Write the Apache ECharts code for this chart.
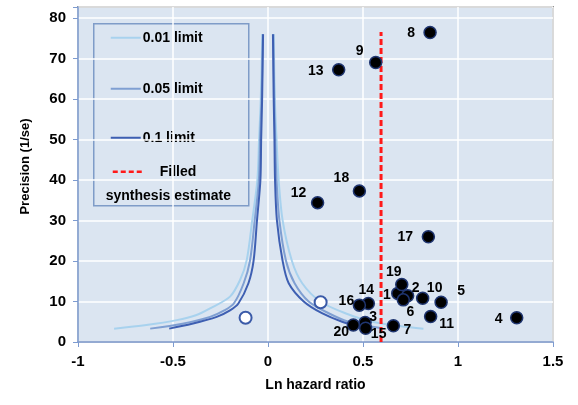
<!DOCTYPE html>
<html>
<head>
<meta charset="utf-8">
<title>Funnel plot</title>
<script src="https://cdn.jsdelivr.net/npm/echarts@6/dist/echarts.min.js"></script>
<style>
  html, body { margin: 0; padding: 0; background: #fff; }
  #funnelChart { width: 578px; height: 405px; }
</style>
</head>
<body>
<div id="funnelChart"></div>
<script>
// study id, ln hazard ratio, precision (1/se)
const studyIds = ['1', '2', '3', '4', '5', '6', '7', '8', '9', '10',
  '11', '12', '13', '14', '15', '16', '17', '18', '19', '20'];
const lnHR = [0.683, 0.735, 0.511, 1.309, 0.911, 0.712, 0.660, 0.853, 0.567, 0.814,
  0.856, 0.261, 0.372, 0.528, 0.514, 0.481, 0.844, 0.481, 0.704, 0.449];
const precision = [12.0, 11.4, 4.8, 6.0, 9.8, 10.4, 4.0, 76.4, 69.0, 10.8,
  6.3, 34.4, 67.2, 9.5, 3.4, 9.1, 26.0, 37.3, 14.2, 4.2];

// imputed (trim and fill) studies
const filledX = [0.277, -0.118];
const filledY = [9.8, 6.0];

// filled synthesis estimate
const filledEstimate = 0.595;
const estimateTop = 76.5;

// pseudo confidence limits [ln HR, precision]
const limit01Left = [[-0.81, 3.3], [-0.64, 4.2], [-0.48, 5.4], [-0.38, 6.6], [-0.305, 8.3], [-0.2, 11.2],
  [-0.147, 15.3], [-0.112, 20.2], [-0.083, 30], [-0.056, 40], [-0.047, 50], [-0.038, 60], [-0.03, 76]];
const limit01Right = [[0.818, 3.3], [0.7, 3.9], [0.547, 5], [0.407, 7.1], [0.275, 10], [0.18, 14.5],
  [0.126, 20], [0.077, 30], [0.056, 40], [0.045, 50], [0.036, 60], [0.03, 76]];
const limit05Left = [[-0.62, 3.3], [-0.45, 4.5], [-0.305, 6.2], [-0.23, 7.8], [-0.18, 9.5], [-0.128, 14.5],
  [-0.095, 20], [-0.07, 30], [-0.048, 40], [-0.042, 50], [-0.034, 60], [-0.027, 76]];
const limit05Right = [[0.6, 3.4], [0.425, 5], [0.319, 7.1], [0.214, 10], [0.14, 14.5],
  [0.095, 20], [0.06, 30], [0.045, 40], [0.038, 50], [0.033, 60], [0.028, 76]];
const limit10Left = [[-0.52, 3.3], [-0.4, 4.5], [-0.27, 6.2], [-0.2, 7.8], [-0.156, 9.5], [-0.103, 14.5],
  [-0.076, 20], [-0.058, 30], [-0.04, 40], [-0.036, 50], [-0.031, 60], [-0.026, 76]];
const limit10Right = [[0.547, 3.4], [0.477, 3.95], [0.39, 5], [0.284, 7.1], [0.188, 10], [0.109, 14.5],
  [0.077, 20], [0.047, 30], [0.037, 40], [0.034, 50], [0.03, 60], [0.026, 76]];

const xTicks = [-1, -0.5, 0, 0.5, 1, 1.5];

// where each study number sits relative to its dot
const labelOffsets = {
  '1': [-11, 2], '2': [8, -8], '3': [8, -5], '4': [-18, 1], '5': [20, -11],
  '6': [7, 12], '7': [14, 4], '8': [-19, 1], '9': [-16, -11], '10': [12, -10],
  '11': [16, 8], '12': [-19, -10], '13': [-23, 1], '14': [-2, -13], '15': [13, 6],
  '16': [-13, -4], '17': [-23, 0], '18': [-18, -13], '19': [-8, -12], '20': [-12, 7]
};

const FONT = '"Liberation Sans", Arial, sans-serif';
const C01 = '#a8d2ee';
const C05 = '#7f9fd2';
const C10 = '#3e5fb2';

const studyData = studyIds.map((id, i) => ({
  value: [lnHR[i], precision[i]],
  name: id,
  label: { offset: labelOffsets[id] }
}));
const filledData = filledX.map((x, i) => [x, filledY[i]]);

function limitSeries(name, data, color) {
  return {
    name: name,
    type: 'line',
    data: data,
    smooth: 0.3,
    showSymbol: false,
    silent: true,
    lineStyle: { color: color, width: 2 },
    z: 2
  };
}

const myChart = echarts.init(document.getElementById('funnelChart'));

const option = {
  animation: false,
  backgroundColor: '#ffffff',
  grid: {
    left: 78,
    right: 25,
    top: 7,
    bottom: 63,
    show: true,
    backgroundColor: '#dbe5f1',
    borderColor: '#3f3f3f',
    borderWidth: 1.5
  },
  xAxis: {
    type: 'value',
    min: -1,
    max: 1.5,
    interval: 0.5,
    name: 'Ln hazard ratio',
    nameLocation: 'middle',
    nameGap: 36,
    nameTextStyle: { fontFamily: FONT, fontWeight: 'bold', fontSize: 14, color: '#000' },
    axisLine: { show: true, onZero: false, lineStyle: { color: '#7d9bd0', width: 1.5 } },
    axisTick: { show: true, length: 5, lineStyle: { color: '#7d9bd0' } },
    axisLabel: {
      margin: 12,
      fontFamily: FONT, fontWeight: 'bold', fontSize: 15, color: '#000',
      formatter: v => (xTicks.indexOf(v) >= 0 ? String(v) : '')
    },
    splitLine: { show: true, lineStyle: { color: '#ffffff', width: 1.5 } }
  },
  yAxis: {
    type: 'value',
    min: 0,
    max: 82.7,
    interval: 10,
    name: 'Precision (1/se)',
    nameLocation: 'middle',
    nameGap: 46,
    nameTextStyle: {
      fontFamily: FONT, fontWeight: 'bold', fontSize: 13, color: '#000',
      padding: [0, 0, 0, 16]
    },
    axisLine: { show: true, onZero: false, lineStyle: { color: '#7d9bd0', width: 1.5 } },
    axisTick: { show: true, length: 5, lineStyle: { color: '#7d9bd0' } },
    axisLabel: {
      margin: 12,
      fontFamily: FONT, fontWeight: 'bold', fontSize: 15, color: '#000',
      formatter: v => (v % 10 === 0 ? String(v) : '')
    },
    splitLine: { show: true, lineStyle: { color: '#ffffff', width: 1.5 } }
  },
  series: [
    limitSeries('0.01 limit L', limit01Left, C01),
    limitSeries('0.01 limit R', limit01Right, C01),
    limitSeries('0.05 limit L', limit05Left, C05),
    limitSeries('0.05 limit R', limit05Right, C05),
    limitSeries('0.1 limit L', limit10Left, C10),
    limitSeries('0.1 limit R', limit10Right, C10),
    {
      name: 'Filled synthesis estimate',
      type: 'line',
      data: [[filledEstimate, 0], [filledEstimate, estimateTop]],
      showSymbol: false,
      silent: true,
      lineStyle: { color: '#ff1a1a', width: 3, type: [6, 3] },
      z: 3
    },
    {
      name: 'Filled studies',
      type: 'scatter',
      data: filledData,
      symbolSize: 12,
      itemStyle: { color: '#ffffff', borderColor: '#3a5aa8', borderWidth: 2, opacity: 1 },
      z: 4
    },
    {
      name: 'Studies',
      type: 'scatter',
      data: studyData,
      symbolSize: 12,
      itemStyle: { color: '#000000', borderColor: '#1f3570', borderWidth: 1.5, opacity: 1 },
      label: {
        show: true,
        position: 'inside',
        formatter: p => p.name,
        fontFamily: FONT,
        fontWeight: 'bold',
        fontSize: 14,
        color: '#000000',
        textBorderWidth: 0,
        textBorderColor: 'transparent'
      },
      z: 5
    }
  ],
  graphic: [
    {
      type: 'group',
      left: 93,
      top: 23,
      z: 10,
      children: [
        { type: 'rect', shape: { x: 0, y: 0, width: 155, height: 182 },
          style: { fill: 'transparent', stroke: '#7f9cc8', lineWidth: 1.5 } },
        { type: 'line', shape: { x1: 17, y1: 14, x2: 47, y2: 14 }, style: { stroke: C01, lineWidth: 2 } },
        { type: 'text', x: 49, y: 14, style: { text: '0.01 limit', font: 'bold 14px ' + FONT, fill: '#000', verticalAlign: 'middle' } },
        { type: 'line', shape: { x1: 17, y1: 65, x2: 47, y2: 65 }, style: { stroke: C05, lineWidth: 2 } },
        { type: 'text', x: 49, y: 65, style: { text: '0.05 limit', font: 'bold 14px ' + FONT, fill: '#000', verticalAlign: 'middle' } },
        { type: 'line', shape: { x1: 17, y1: 114, x2: 47, y2: 114 }, style: { stroke: C10, lineWidth: 2 } },
        { type: 'text', x: 49, y: 114, style: { text: '0.1 limit', font: 'bold 14px ' + FONT, fill: '#000', verticalAlign: 'middle' } },
        { type: 'line', shape: { x1: 19, y1: 148, x2: 50, y2: 148 }, style: { stroke: '#ff1a1a', lineWidth: 2.5, lineDash: [5, 3] } },
        { type: 'text', x: 66, y: 148, style: { text: 'Filled', font: 'bold 14px ' + FONT, fill: '#000', verticalAlign: 'middle' } },
        { type: 'text', x: 12, y: 172, style: { text: 'synthesis estimate', font: 'bold 14px ' + FONT, fill: '#000', verticalAlign: 'middle' } }
      ]
    }
  ]
};

myChart.setOption(option);
window.addEventListener('resize', myChart.resize);
</script>
</body>
</html>
